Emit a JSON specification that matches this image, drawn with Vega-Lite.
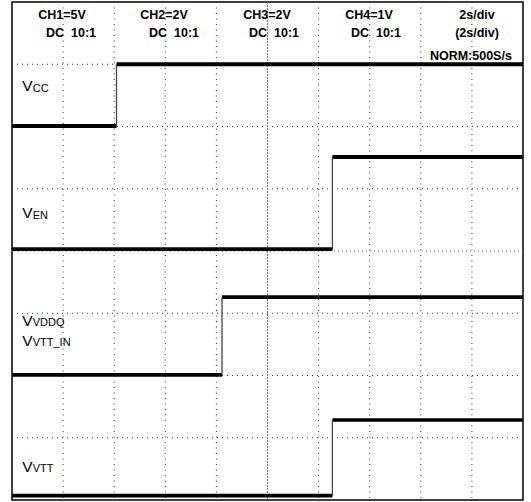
{
  "$schema": "https://vega.github.io/schema/vega-lite/v6.json",
  "width": 511,
  "height": 498,
  "autosize": {"type": "none"},
  "padding": {"left": 12, "top": 2, "right": 8, "bottom": 2},
  "background": "white",
  "config": {"view": {"stroke": "black", "strokeWidth": 1.5}},
  "datasets": {
    "gridx": [{"x": 1}, {"x": 2}, {"x": 3}, {"x": 4}, {"x": 6}, {"x": 7}, {"x": 8}, {"x": 9}],
    "gridy": [{"y": 1}, {"y": 2}, {"y": 3}, {"y": 5}, {"y": 6}, {"y": 7}],
    "center": [{"x": 5, "y": 4}],
    "segments": [
      {"seg": "Vcc low", "x0": 0, "x1": 2.045, "y": 6.01},
      {"seg": "Vcc high", "x0": 2.045, "x1": 10, "y": 7.0},
      {"seg": "VEN low", "x0": 0, "x1": 6.27, "y": 4.03},
      {"seg": "VEN high", "x0": 6.27, "x1": 10, "y": 5.51},
      {"seg": "VVDDQ low", "x0": 0, "x1": 4.11, "y": 2.01},
      {"seg": "VVDDQ high", "x0": 4.11, "x1": 10, "y": 3.26},
      {"seg": "VVTT low", "x0": 0, "x1": 6.27, "y": 0.07},
      {"seg": "VVTT high", "x0": 6.27, "x1": 10, "y": 1.285}
    ],
    "edges": [
      {"trace": "Vcc", "x": 2.045, "y0": 6.01, "y1": 7.0},
      {"trace": "VEN", "x": 6.27, "y0": 4.03, "y1": 5.51},
      {"trace": "VVDDQ", "x": 4.11, "y0": 2.01, "y1": 3.26},
      {"trace": "VVTT", "x": 6.27, "y0": 0.07, "y1": 1.285}
    ],
    "labels": [
      {"sub": "CC", "x": 0.2, "y": 6.57},
      {"sub": "EN", "x": 0.2, "y": 4.53},
      {"sub": "VDDQ", "x": 0.2, "y": 2.8},
      {"sub": "VTT_IN", "x": 0.2, "y": 2.474},
      {"sub": "VTT", "x": 0.2, "y": 0.45}
    ],
    "header": [
      {"t": "CH1=5V", "x": 0.978, "y": 7.72},
      {"t": "DC \u00a010:1", "x": 1.155, "y": 7.44},
      {"t": "CH2=2V", "x": 2.975, "y": 7.72},
      {"t": "DC \u00a010:1", "x": 3.17, "y": 7.44},
      {"t": "CH3=2V", "x": 4.99, "y": 7.72},
      {"t": "DC \u00a010:1", "x": 5.127, "y": 7.44},
      {"t": "CH4=1V", "x": 6.986, "y": 7.72},
      {"t": "DC \u00a010:1", "x": 7.123, "y": 7.44},
      {"t": "2s/div", "x": 9.1, "y": 7.72},
      {"t": "(2s/div)", "x": 9.1, "y": 7.44}
    ],
    "header2": [
      {"t": "NORM:500S/s", "x": 8.98, "y": 7.07}
    ]
  },
  "layer": [
    {
      "data": {"name": "gridx"},
      "mark": {"type": "rule", "color": "#333", "strokeWidth": 1, "strokeDash": [1, 4.5]},
      "encoding": {
        "x": {"field": "x", "type": "quantitative", "scale": {"domain": [0, 10], "nice": false, "zero": false}, "axis": null}
      }
    },
    {
      "data": {"name": "gridy"},
      "mark": {"type": "rule", "color": "#333", "strokeWidth": 1, "strokeDash": [1, 4]},
      "encoding": {
        "y": {"field": "y", "type": "quantitative", "scale": {"domain": [0, 8], "nice": false, "zero": false}, "axis": null}
      }
    },
    {
      "data": {"name": "center"},
      "mark": {"type": "rule", "color": "#777", "strokeWidth": 1, "strokeDash": [2, 1]},
      "encoding": {
        "x": {"field": "x", "type": "quantitative", "axis": null}
      }
    },
    {
      "data": {"name": "center"},
      "mark": {"type": "rule", "color": "#666", "strokeWidth": 1, "strokeDash": [1, 3]},
      "encoding": {
        "y": {"field": "y", "type": "quantitative", "axis": null}
      }
    },
    {
      "data": {"name": "center"},
      "mark": {"type": "point", "opacity": 0},
      "encoding": {
        "x": {"field": "x", "type": "quantitative",
          "axis": {"orient": "bottom", "offset": -252, "domain": false, "labels": false, "title": null, "grid": false,
            "ticks": true, "tickSize": 6, "tickColor": "#666", "tickWidth": 1,
            "values": [0,0.2,0.4,0.6,0.8,1,1.2,1.4,1.6,1.8,2,2.2,2.4,2.6,2.8,3,3.2,3.4,3.6,3.8,4,4.2,4.4,4.6,4.8,5,5.2,5.4,5.6,5.8,6,6.2,6.4,6.6,6.8,7,7.2,7.4,7.6,7.8,8,8.2,8.4,8.6,8.8,9,9.2,9.4,9.6,9.8,10]}},
        "y": {"field": "y", "type": "quantitative",
          "axis": {"orient": "left", "offset": -258.5, "domain": false, "labels": false, "title": null, "grid": false,
            "ticks": true, "tickSize": 6, "tickColor": "#666", "tickWidth": 1,
            "values": [0,0.2,0.4,0.6,0.8,1,1.2,1.4,1.6,1.8,2,2.2,2.4,2.6,2.8,3,3.2,3.4,3.6,3.8,4,4.2,4.4,4.6,4.8,5,5.2,5.4,5.6,5.8,6,6.2,6.4,6.6,6.8,7,7.2,7.4,7.6,7.8,8]}}
      }
    },
    {
      "data": {"name": "segments"},
      "mark": {"type": "rule", "color": "black", "strokeCap": "butt"},
      "encoding": {
        "x": {"field": "x0", "type": "quantitative", "axis": null},
        "x2": {"field": "x1"},
        "y": {"field": "y", "type": "quantitative", "axis": null},
        "strokeWidth": {"field": "seg", "type": "nominal", "legend": null,
          "scale": {"domain": ["Vcc low", "Vcc high", "VEN low", "VEN high", "VVDDQ low", "VVDDQ high", "VVTT low", "VVTT high"],
                    "range": [4, 3.5, 7.5, 5.5, 6, 5, 6.5, 6.5]}}
      }
    },
    {
      "data": {"name": "edges"},
      "mark": {"type": "rule", "color": "#444", "strokeWidth": 1.3},
      "encoding": {
        "x": {"field": "x", "type": "quantitative", "axis": null},
        "y": {"field": "y0", "type": "quantitative", "axis": null},
        "y2": {"field": "y1"}
      }
    },
    {
      "data": {"name": "labels"},
      "mark": {"type": "text", "text": "V", "align": "left", "baseline": "alphabetic", "font": "Liberation Sans", "fontSize": 15.5, "color": "black"},
      "encoding": {
        "x": {"field": "x", "type": "quantitative", "axis": null},
        "y": {"field": "y", "type": "quantitative", "axis": null}
      }
    },
    {
      "data": {"name": "labels"},
      "mark": {"type": "text", "align": "left", "baseline": "alphabetic", "dx": 10.5, "dy": 0.5, "font": "Liberation Sans", "fontSize": 11, "color": "black"},
      "encoding": {
        "x": {"field": "x", "type": "quantitative", "axis": null},
        "y": {"field": "y", "type": "quantitative", "axis": null},
        "text": {"field": "sub"}
      }
    },
    {
      "data": {"name": "header"},
      "mark": {"type": "text", "align": "center", "baseline": "alphabetic", "font": "Liberation Sans", "fontWeight": "bold", "fontSize": 12.5, "color": "black"},
      "encoding": {
        "x": {"field": "x", "type": "quantitative", "axis": null},
        "y": {"field": "y", "type": "quantitative", "axis": null},
        "text": {"field": "t"}
      }
    },
    {
      "data": {"name": "header2"},
      "mark": {"type": "text", "align": "center", "baseline": "alphabetic", "font": "Liberation Sans", "fontWeight": "bold", "fontSize": 12.5, "letterSpacing": 0.8, "color": "black"},
      "encoding": {
        "x": {"field": "x", "type": "quantitative", "axis": null},
        "y": {"field": "y", "type": "quantitative", "axis": null},
        "text": {"field": "t"}
      }
    }
  ]
}
